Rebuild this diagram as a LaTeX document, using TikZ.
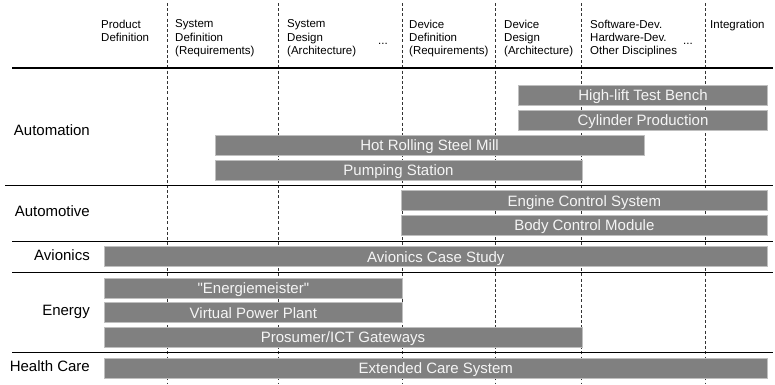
\documentclass[tikz,border=0pt]{standalone}
\usepackage{fontspec}
\setmainfont{Liberation Sans}
% bar labels keep straight quotation marks
\newfontfamily\barfont{Liberation Sans}[Ligatures=TeXOff]
\begin{document}
\begin{tikzpicture}[x=1pt,y=-1pt,
  phase/.style={anchor=north west,inner sep=0pt,align=left,
    font=\fontsize{11.5}{13.3}\selectfont},
  ellip/.style={anchor=base west,inner sep=0pt,font=\fontsize{11.5}{13.3}\selectfont},
  rowlabel/.style={anchor=base east,inner sep=0pt,font=\fontsize{15}{18}\selectfont},
  bar/.style={draw=black!25,line width=0.6pt,fill=black!50,text=white!96!black,
    inner sep=0pt,minimum height=20pt,text height=10.7pt,text depth=0pt,
    font=\barfont\fontsize{15}{18}\selectfont},
  phaseline/.style={black!80,line width=0.8pt,dash pattern=on 3pt off 2.2pt},
  rowline/.style={black,line width=1.3pt}]
\useasboundingbox (0,0) rectangle (775,384);

% phase boundaries
\foreach \x in {167,278,402,495,581,705}
  \draw[phaseline] (\x,3) -- (\x,384);

% row separators
\draw[rowline] (12,68) -- (773,68);
\draw[rowline] (5,185.3) -- (773,185.3);
\draw[rowline] (12,241.7) -- (773,241.7);
\draw[rowline] (12,272.3) -- (773,272.3);
\draw[rowline] (12,352.3) -- (773,352.3);

% development phases
\node[phase] (pd) at (101,19.5) {Product\\Definition};
\node[phase] (sd) at (175,19.5) {System\\Definition\\(Requirements)};
\node[phase] (sa) at (287,19.5) {System\\Design\\(Architecture)};
\node[ellip] (dots1) at (378,44.5) {...};
\node[phase] (dd) at (409,19.5) {Device\\Definition\\(Requirements)};
\node[phase] (da) at (504,19.5) {Device\\Design\\(Architecture)};
\node[phase] (sw) at (590,19.5) {Software-Dev.\\Hardware-Dev.\\Other Disciplines};
\node[ellip] (dots2) at (683,44) {...};
\node[phase] (int) at (710,19.5) {Integration};

% application domains
\node[rowlabel] (automation) at (90,135) {Automation};
\node[rowlabel] (automotive) at (90,216.7) {Automotive};
\node[rowlabel] (avionics) at (90,260) {Avionics};
\node[rowlabel] (energy) at (90,315.7) {Energy};
\node[rowlabel] (health) at (90,371.7) {Health Care};

% case studies
\node[bar,minimum width=249.4pt] (hl) at (643,95) {High-lift Test Bench};
\node[bar,minimum width=249.4pt] (cyl) at (643,120) {Cylinder Production};
\node[bar,minimum width=429pt] (hot) at (429.5,145) {Hot Rolling Steel Mill};
\node[bar,minimum width=367pt] (pump) at (398.5,170) {Pumping Station};
\node[bar,minimum width=366.7pt] (ecs) at (584.35,200.7) {Engine Control System};
\node[bar,minimum width=366.7pt] (bcm) at (584.35,225.3) {Body Control Module};
\node[bar,minimum width=663.7pt] (avi) at (435.85,256.7) {Avionics Case Study};
\node[bar,minimum width=298.7pt] (em) at (253.35,288.3) {"Energiemeister"};
\node[bar,minimum width=298.7pt] (vpp) at (253.35,312.7) {Virtual Power Plant};
\node[bar,minimum width=478pt] (pros) at (343,337.3) {Prosumer/ICT Gateways};
\node[bar,minimum width=663.7pt] (ecare) at (435.85,368.3) {Extended Care System};
\end{tikzpicture}
\end{document}
